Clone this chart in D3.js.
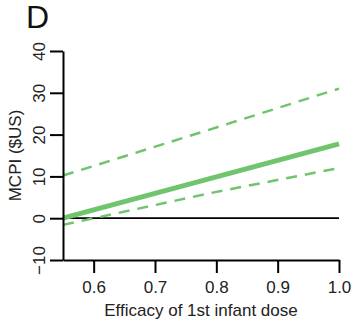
<!DOCTYPE html>
<html lang="en">
<head>
  <meta charset="UTF-8">
  <title>MCPI vs efficacy</title>
  <script src="https://d3js.org/d3.v7.min.js"></script>
  <style>
    body { margin: 0; background: #fff; font-family: "Liberation Sans", Arial, sans-serif; }
    svg { display: block; }
  </style>
</head>
<body>
  <svg width="355" height="322"></svg>
  <script>
    // data
    const efficacy = [0.55, 0.8, 1.0];
    const mcpi = [0.0, 9.9, 17.8];
    const mcpiUpper = [10.2, 21.7, 31.0];
    const mcpiLower = [-1.6, 6.3, 12.0];
    const xTicks = [0.6, 0.7, 0.8, 0.9, 1.0];
    const yTicks = [-10, 0, 10, 20, 30, 40];

    const svg = d3.select("svg");
    const green = "#6fc46d";

    const x = d3.scaleLinear().domain([0.55, 1.0]).range([63, 339]);
    const y = d3.scaleLinear().domain([-10, 40]).range([260, 51]);

    // zero reference line
    svg.append("line")
      .attr("x1", x(0.55)).attr("x2", x(1.0))
      .attr("y1", y(0)).attr("y2", y(0))
      .attr("stroke", "#000").attr("stroke-width", 1.8);

    const line = d3.line()
      .x((d, i) => x(efficacy[i]))
      .y(d => y(d));

    [mcpiUpper, mcpiLower].forEach(s => {
      svg.append("path")
        .attr("d", line(s))
        .attr("fill", "none")
        .attr("stroke", green)
        .attr("stroke-width", 2.5)
        .attr("stroke-dasharray", "11,8");
    });

    svg.append("path")
      .attr("d", line(mcpi))
      .attr("fill", "none")
      .attr("stroke", green)
      .attr("stroke-width", 5);

    // axes
    const xAxis = svg.append("g")
      .attr("transform", `translate(0,${y(-10)})`)
      .call(d3.axisBottom(x).tickValues(xTicks).tickFormat(d3.format(".1f")).tickSize(13).tickSizeOuter(0));
    xAxis.selectAll("text").attr("dy", "0").attr("y", 33);

    const yAxis = svg.append("g")
      .attr("transform", `translate(${x(0.55)},0)`)
      .call(d3.axisLeft(y).tickValues(yTicks).tickSize(13).tickSizeOuter(0));
    yAxis.selectAll(".tick text")
      .attr("x", null).attr("dy", null)
      .attr("text-anchor", "middle")
      .attr("transform", "translate(-18,0) rotate(-90)");

    [xAxis, yAxis].forEach(a => {
      a.select(".domain").attr("stroke-width", 2);
      a.selectAll(".tick line").attr("stroke-width", 2);
      a.selectAll("text")
        .attr("font-family", "Liberation Sans, Arial, sans-serif")
        .attr("font-size", 17)
        .attr("fill", "#222");
    });

    svg.append("text")
      .attr("x", x(0.775)).attr("y", 316)
      .attr("text-anchor", "middle")
      .attr("font-size", 17).attr("fill", "#222")
      .text("Efficacy of 1st infant dose");

    svg.append("text")
      .attr("transform", `translate(21,${y(15)}) rotate(-90)`)
      .attr("text-anchor", "middle")
      .attr("font-size", 17).attr("fill", "#222")
      .text("MCPI ($US)");

    svg.append("text")
      .attr("x", 26).attr("y", 28)
      .attr("font-size", 32).attr("fill", "#111")
      .text("D");
  </script>
</body>
</html>
